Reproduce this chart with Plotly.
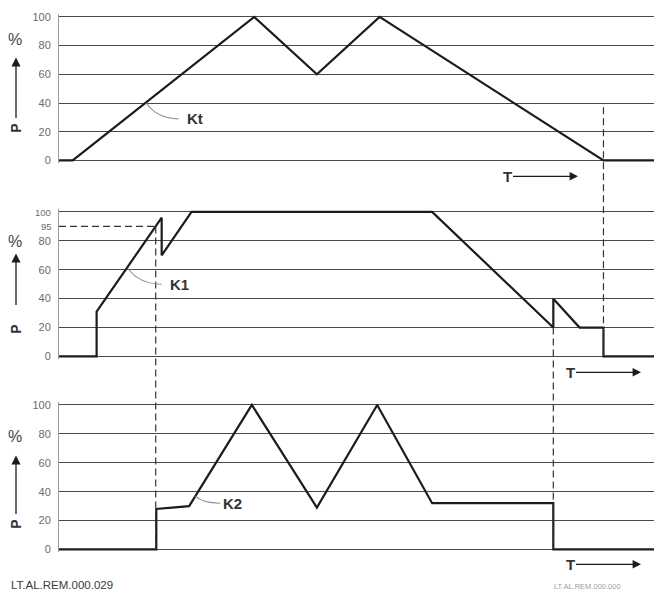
import plotly.graph_objects as go

# ---------------- data (time in % of chart width, P in %) ----------------
KT_T = [0, 2.3, 32.7, 43.2, 53.7, 91.2, 100]
KT_P = [0, 0, 100, 60, 100, 0, 0]

K1_T = [0, 6.3, 6.3, 17.2, 17.2, 22.2, 62.5, 82.8, 82.8, 87.2, 91.2, 91.2, 100]
K1_P = [0, 0, 31, 96, 70, 100, 100, 20, 40, 20, 20, 0, 0]

K2_T = [0, 16.3, 16.3, 21.8, 32.3, 43.2, 53.3, 62.5, 82.8, 82.8, 100]
K2_P = [0, 0, 28, 30, 100, 29, 100, 32, 32, 0, 0]

Y_TICKS = [0, 20, 40, 60, 80, 100]
Y_TICK_LABELS = ["0", "20", "40", "60", "80", "100"]
K1_THRESHOLD_LABEL = "95"
K1_THRESHOLD_POS = 90      # drawn position of the "95" mark (schematic scale)
K1_THRESHOLD_T = 16.2

CURVE_NAMES = ["Kt", "K1", "K2"]
FOOTER_LEFT = "LT.AL.REM.000.029"
FOOTER_RIGHT = "LT.AL.REM.000.000"

# ---------------- geometry (window pixels, page has 8px body margin) ----------------
WIN_W, WIN_H = 662, 604
OFF = 8
W, H = WIN_W - OFF, WIN_H - 2 * OFF
X0_PX, X1_PX = 59, 656
PANEL_PX = [(14, 159), (211, 357), (406, 552)]   # window pixel y of P=100 and P=0
PAD = 2

LINE_C = "#1c1c1c"
GRID_C = "#4a4a4a"
TXT_C = "#333333"
TICK_C = "#6a6a6a"
FONT = "Liberation Sans, Arial, sans-serif"


def px(x):
    return (x - OFF) / W


def py(y):
    return 1 - (y - OFF) / H


def ydomain(i):
    top, bot = PANEL_PX[i]
    s = (bot - top) / 100
    return [py(bot + PAD * s), py(top - PAD * s)]


def vpaper(i, v):
    top, bot = PANEL_PX[i]
    return py(bot - v * (bot - top) / 100)


fig = go.Figure()
series = [(KT_T, KT_P), (K1_T, K1_P), (K2_T, K2_P)]
for i, (t, p) in enumerate(series):
    sfx = "" if i == 0 else str(i + 1)
    fig.add_trace(go.Scatter(
        x=t, y=p, mode="lines", xaxis="x" + sfx, yaxis="y" + sfx,
        line=dict(color=LINE_C, width=2.2), hoverinfo="skip", showlegend=False))

layout = dict(
    width=W, height=H, margin=dict(l=0, r=0, t=0, b=0),
    paper_bgcolor="white", plot_bgcolor="white", showlegend=False,
    font=dict(family=FONT, color=TXT_C),
)
for i in range(3):
    sfx = "" if i == 0 else str(i + 1)
    layout["xaxis" + sfx] = dict(
        domain=[px(X0_PX), px(X1_PX)], range=[0, 100], anchor="y" + sfx,
        showgrid=False, zeroline=False, showticklabels=False, showline=False,
        fixedrange=True)
    ticktext = list(Y_TICK_LABELS)
    if i == 1:
        ticktext[-1] = '<span style="font-size:9.5px">100</span>'
    layout["yaxis" + sfx] = dict(
        domain=ydomain(i), range=[-PAD, 100 + PAD], anchor="x" + sfx,
        tickvals=Y_TICKS, ticktext=ticktext, ticks="", ticklabelstandoff=5,
        tickfont=dict(size=11, color=TICK_C, family=FONT),
        showgrid=True, gridcolor=GRID_C, gridwidth=1.4, zeroline=False,
        showline=True, linecolor="#9a9a9a", linewidth=1, fixedrange=True)
fig.update_layout(**layout)

shapes = []
# right borders (paper-referenced so they are not clipped at the plot edge)
for i in range(3):
    shapes.append(dict(type="line", xref="paper", yref="paper",
                       x0=px(X1_PX), x1=px(X1_PX),
                       y0=vpaper(i, 0), y1=vpaper(i, 100),
                       line=dict(color=GRID_C, width=1.8)))

dash = dict(color="#333333", width=1.2, dash="7px,4px")
# vertical dashed guides spanning panels
shapes.append(dict(type="line", xref="x", yref="paper", x0=KT_T[5], x1=KT_T[5],
                   y0=vpaper(0, 37), y1=vpaper(1, 0), line=dash))
shapes.append(dict(type="line", xref="x", yref="paper", x0=K1_THRESHOLD_T, x1=K1_THRESHOLD_T,
                   y0=vpaper(1, K1_THRESHOLD_POS), y1=vpaper(2, 0), line=dash))
shapes.append(dict(type="line", xref="x", yref="paper", x0=K1_T[7], x1=K1_T[7],
                   y0=vpaper(1, 20), y1=vpaper(2, 0), line=dash))
# horizontal 95 dashed
shapes.append(dict(type="line", xref="x2", yref="y2", x0=0, x1=K1_THRESHOLD_T,
                   y0=K1_THRESHOLD_POS, y1=K1_THRESHOLD_POS, line=dash))

# leader lines for labels
leaders = [("x", "y", "M 14.6,40 Q 16.5,29 20.0,29"),
           ("x2", "y2", "M 11.5,61 Q 13.5,50 17.2,50"),
           ("x3", "y3", "M 22.8,37 Q 24,32 27.0,32")]
for xr, yr, path in leaders:
    shapes.append(dict(type="path", xref=xr, yref=yr, path=path,
                       line=dict(color="#8c8c8c", width=1.1)))
fig.update_layout(shapes=shapes)

ann = []
# curve labels
label_pos = [("x", "y", 22.8, 29), ("x2", "y2", 20.2, 50), ("x3", "y3", 29.0, 32)]
for name, (xr, yr, xv, yv) in zip(CURVE_NAMES, label_pos):
    ann.append(dict(xref=xr, yref=yr, x=xv, y=yv, text="<b>%s</b>" % name,
                    xanchor="center", yanchor="middle",
                    showarrow=False, font=dict(size=15, color=TXT_C, family=FONT)))

# "95" label
ann.append(dict(xref="paper", yref="paper", x=px(54), y=vpaper(1, K1_THRESHOLD_POS),
                xanchor="right", yanchor="middle", text=K1_THRESHOLD_LABEL, showarrow=False,
                font=dict(size=9.5, color=TICK_C, family=FONT)))

# P-axis symbols per panel: (% y, arrow head y, arrow tail y, P y)
ysym = [(37, 55, 117, 127), (241, 253, 306, 330), (438, 457, 517, 527)]
for yp, yh, yt, yP in ysym:
    ann.append(dict(xref="paper", yref="paper", x=px(15), y=py(yp), text="%",
                    xanchor="center", yanchor="middle",
                    showarrow=False, font=dict(size=16, color="#444", family=FONT)))
    ann.append(dict(xref="paper", yref="paper", x=px(16), y=py(yh), text="",
                    showarrow=True, ax=0, ay=yt - yh, arrowhead=2, arrowsize=1.4,
                    arrowwidth=1.3, arrowcolor=LINE_C))
    ann.append(dict(xref="paper", yref="paper", x=px(16), y=py(yP), text="<b>P</b>",
                    xanchor="center", yanchor="middle",
                    textangle=-90, showarrow=False,
                    font=dict(size=14, color=TXT_C, family=FONT)))

# T arrows: (T text x, head x, y)
tarr = [(507, 578, 175), (570, 641, 373), (570, 641, 567)]
for xt, xh, yy in tarr:
    ann.append(dict(xref="paper", yref="paper", x=px(xh), y=py(yy), text="<b>T</b>",
                    showarrow=True, ax=xt - xh, ay=0, arrowhead=2, arrowsize=1.4,
                    arrowwidth=1.2, arrowcolor=LINE_C,
                    font=dict(size=15, color=TXT_C, family=FONT)))

ann.append(dict(xref="paper", yref="paper", x=px(9), y=py(596), xanchor="left",
                yanchor="bottom", text=FOOTER_LEFT, showarrow=False,
                font=dict(size=11.5, color="#3a3a3a", family=FONT)))
ann.append(dict(xref="paper", yref="paper", x=px(587), y=py(596), xanchor="center",
                yanchor="bottom", text=FOOTER_RIGHT, showarrow=False,
                font=dict(size=7.5, color="#a0a0a0", family=FONT)))
fig.update_layout(annotations=ann)

fig.write_html("out.html")
